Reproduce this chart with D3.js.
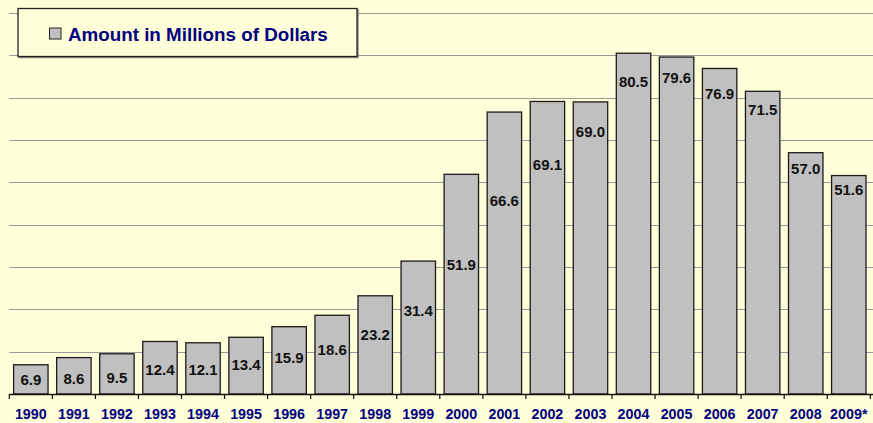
<!DOCTYPE html>
<html>
<head>
<meta charset="utf-8">
<script src="https://cdn.jsdelivr.net/npm/d3@7/dist/d3.min.js"></script>
<style>
  html, body { margin: 0; padding: 0; background: #FFFFD9; }
  svg { display: block; font-family: "Liberation Sans", Arial, sans-serif; }
</style>
</head>
<body>
<svg id="chart" width="873" height="423"></svg>
<script>
// ---- data ----
const years = ["1990","1991","1992","1993","1994","1995","1996","1997","1998","1999",
               "2000","2001","2002","2003","2004","2005","2006","2007","2008","2009*"];
const amounts = [6.9, 8.6, 9.5, 12.4, 12.1, 13.4, 15.9, 18.6, 23.2, 31.4,
                 51.9, 66.6, 69.1, 69.0, 80.5, 79.6, 76.9, 71.5, 57.0, 51.6];
// value (in data units) at which each bar's label sits, as placed in the original
const labelAnchor = [3.3, 3.7, 3.8, 5.7, 5.7, 6.85, 8.7, 10.6, 14.1, 19.8,
                     30.5, 45.6, 54.3, 62.1, 73.9, 74.7, 71.0, 67.1, 53.3, 48.2];
const yTicks = [0, 10, 20, 30, 40, 50, 60, 70, 80, 90];
const seriesName = "Amount in Millions of Dollars";

// ---- layout ----
const W = 873, H = 423;
const plotLeft = 9.3, plotRight = 870.3, plotTop = 13, plotBottom = 394;
const svg = d3.select("#chart");

svg.append("rect").attr("width", W).attr("height", H).attr("fill", "#FFFFD9");

const x = d3.scaleBand().domain(years).range([plotLeft, plotRight])
  .paddingInner(0.2).paddingOuter(0.1);
const y = d3.scaleLinear().domain([0, 90]).range([plotBottom, plotTop]);

// gridlines
svg.append("g").selectAll("line").data(yTicks.filter(d => d > 0)).join("line")
  .attr("x1", plotLeft).attr("x2", W)
  .attr("y1", d => Math.round(y(d)) + 0.5).attr("y2", d => Math.round(y(d)) + 0.5)
  .attr("stroke", "#999").attr("stroke-width", 1);

// bars
svg.append("g").selectAll("rect").data(years).join("rect")
  .attr("x", (d) => x(d))
  .attr("y", (d, i) => y(amounts[i]))
  .attr("width", x.bandwidth())
  .attr("height", (d, i) => y(0) - y(amounts[i]))
  .attr("fill", "#C0C0C0")
  .attr("stroke", "#1a1a1a").attr("stroke-width", 1.3);

// value labels
svg.append("g").selectAll("text").data(years).join("text")
  .attr("x", d => x(d) + x.bandwidth() / 2)
  .attr("y", (d, i) => y(labelAnchor[i]))
  .attr("dy", "0.36em")
  .attr("text-anchor", "middle")
  .attr("font-size", "15px").attr("font-weight", "bold")
  .attr("fill", "#111")
  .text((d, i) => amounts[i].toFixed(1));

// x axis
const xAxis = d3.axisBottom(x).tickSize(0).tickPadding(15);
const gx = svg.append("g").attr("transform", `translate(0,${plotBottom})`).call(xAxis);
gx.select(".domain").remove();
gx.selectAll("text")
  .attr("font-size", "14.3px").attr("font-weight", "bold")
  .attr("fill", "#000080").attr("font-family", "'Liberation Sans', Arial, sans-serif");

svg.append("line")
  .attr("x1", plotLeft).attr("x2", W)
  .attr("y1", plotBottom + 0.5).attr("y2", plotBottom + 0.5)
  .attr("stroke", "#111").attr("stroke-width", 1.3);

// tick marks at category boundaries
const boundaries = years.map(d => x(d) - x.step() * x.paddingInner() / 2)
  .concat([x(years[years.length - 1]) + x.bandwidth() + x.step() * x.paddingInner() / 2]);
svg.append("g").selectAll("line").data(boundaries).join("line")
  .attr("x1", d => d).attr("x2", d => d)
  .attr("y1", plotBottom).attr("y2", plotBottom + 5)
  .attr("stroke", "#111").attr("stroke-width", 1.2);

// legend
const lg = svg.append("g");
lg.append("rect").attr("x", 19).attr("y", 9.5).attr("width", 339).attr("height", 48)
  .attr("fill", "none").attr("stroke", "#888").attr("stroke-width", 1.5);
lg.append("rect").attr("x", 18).attr("y", 8.5).attr("width", 339).attr("height", 48)
  .attr("fill", "#FFFFD9").attr("stroke", "#222").attr("stroke-width", 1.3);
lg.append("rect").attr("x", 49.5).attr("y", 28).attr("width", 11.5).attr("height", 11)
  .attr("fill", "#C0C0C0").attr("stroke", "#222").attr("stroke-width", 1);
lg.append("text").attr("x", 68).attr("y", 40.5)
  .attr("font-size", "18.8px").attr("font-weight", "bold").attr("fill", "#000080")
  .text(seriesName);
</script>
</body>
</html>
